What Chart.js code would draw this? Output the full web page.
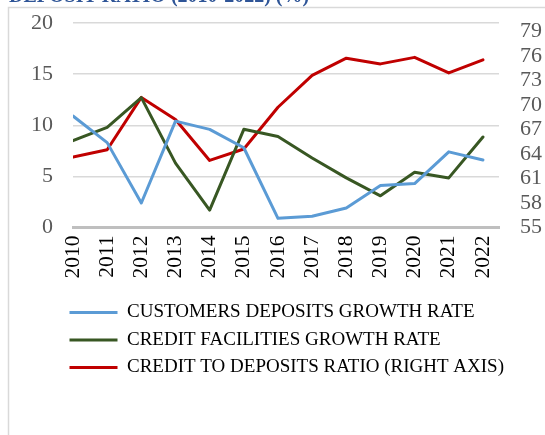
<!DOCTYPE html>
<html>
<head>
<meta charset="utf-8">
<script src="https://cdn.jsdelivr.net/npm/chart.js@4/dist/chart.umd.min.js"></script>
<style>
  html, body { margin: 0; padding: 0; background: #ffffff; }
  #wrap { width: 545px; height: 435px; }
</style>
</head>
<body>
<div id="wrap"><canvas id="c" width="545" height="435"></canvas></div>
<script>
// Years on the category axis
const years = ['2010','2011','2012','2013','2014','2015','2016','2017','2018','2019','2020','2021','2022'];

// Growth rates (%), left axis
const depositsGrowth = [10.9, 8.3, 2.4, 10.4, 9.6, 7.8, 0.9, 1.1, 1.9, 4.1, 4.3, 7.4, 6.6];
const creditGrowth   = [8.5, 9.8, 12.7, 6.3, 1.7, 9.6, 8.9, 6.8, 4.85, 3.1, 5.4, 4.85, 8.85];

// Credit to deposits ratio (%), right axis
const creditToDeposits = [63.6, 64.5, 70.9, 68.2, 63.2, 64.6, 69.7, 73.6, 75.7, 75.0, 75.8, 73.9, 75.5];

// Tick labels
const leftTicks  = [0, 5, 10, 15, 20];
const rightTicks = [55, 58, 61, 64, 67, 70, 73, 76, 79];

const seriesNames = [
  'CUSTOMERS DEPOSITS GROWTH RATE',
  'CREDIT FACILITIES GROWTH RATE',
  'CREDIT TO DEPOSITS RATIO (RIGHT AXIS)'
];

const toPoints = vals => vals.map((v, i) => ({ x: i, y: v }));

const SERIF = '"Liberation Serif", "DejaVu Serif", serif';

// Outer frame and the last line of the heading
const framePlugin = {
  id: 'frame',
  beforeDraw(chart) {
    const ctx = chart.ctx;
    ctx.save();
    ctx.strokeStyle = '#d9d9d9';
    ctx.lineWidth = 1.5;
    ctx.beginPath();
    ctx.moveTo(8.5, 435);
    ctx.lineTo(8.5, 7.5);
    ctx.lineTo(545, 7.5);
    ctx.stroke();
    ctx.fillStyle = '#2f5597';
    ctx.font = 'bold 20px ' + SERIF;
    ctx.textBaseline = 'alphabetic';
    ctx.textAlign = 'left';
    ctx.fillText('DEPOSIT RATIO (2010-2022) (%)', 9, 1.5);
    ctx.restore();
  }
};

// Legend rows start under the plot rather than at the canvas edge
const legendShift = {
  id: 'legendShift',
  afterLayout(chart) {
    const lg = chart.legend;
    if (lg) { lg.left += 61; lg.right += 61; }
  }
};

// Value axes: fixed width, no extra vertical room reserved for end labels
const fitValueAxis = width => s => {
  s.width = width;
  s.paddingTop = 0;
  s.paddingBottom = 0;
};

new Chart(document.getElementById('c'), {
  type: 'line',
  data: {
    datasets: [
      { label: seriesNames[0], data: toPoints(depositsGrowth), yAxisID: 'y',
        borderColor: '#5b9bd5', backgroundColor: '#5b9bd5' },
      { label: seriesNames[1], data: toPoints(creditGrowth), yAxisID: 'y',
        borderColor: '#385723', backgroundColor: '#385723' },
      { label: seriesNames[2], data: toPoints(creditToDeposits), yAxisID: 'y1',
        borderColor: '#c00000', backgroundColor: '#c00000' }
    ]
  },
  options: {
    responsive: false,
    animation: false,
    events: [],
    datasets: {
      line: {
        borderWidth: 3,
        pointRadius: 0,
        tension: 0,
        borderJoinStyle: 'round',
        borderCapStyle: 'round',
        fill: false
      }
    },
    layout: { padding: { top: 23, left: 0, right: 0, bottom: 48 } },
    scales: {
      x: {
        type: 'linear',
        min: 0,
        max: 12.47,
        afterBuildTicks: s => { s.ticks = years.map((_, i) => ({ value: i })); },
        afterFit: s => { s.height = 67; },
        grid: { display: false, drawTicks: false },
        border: { display: true, color: '#bfbfbf', width: 3 },
        ticks: {
          autoSkip: false,
          minRotation: 90,
          maxRotation: 90,
          padding: 8,
          color: '#000000',
          font: { family: SERIF, size: 21.5 },
          callback: v => years[v]
        }
      },
      y: {
        position: 'left',
        min: 0,
        max: 20,
        afterBuildTicks: s => { s.ticks = leftTicks.map(v => ({ value: v })); },
        afterFit: fitValueAxis(73),
        grid: {
          drawTicks: false,
          color: ctx => ctx.tick && ctx.tick.value === 0 ? 'rgba(0,0,0,0)' : '#d9d9d9',
          lineWidth: 1.5
        },
        border: { display: false },
        ticks: {
          autoSkip: false,
          padding: 20,
          color: '#595959',
          font: { family: SERIF, size: 22 }
        }
      },
      y1: {
        position: 'right',
        min: 55,
        max: 80,
        afterBuildTicks: s => { s.ticks = rightTicks.map(v => ({ value: v })); },
        afterFit: fitValueAxis(46),
        grid: { display: false, drawTicks: false },
        border: { display: false },
        ticks: {
          autoSkip: false,
          padding: 21,
          color: '#595959',
          font: { family: SERIF, size: 22 }
        }
      }
    },
    plugins: {
      title: { display: false },
      tooltip: { enabled: false },
      legend: {
        display: true,
        position: 'bottom',
        align: 'start',
        labels: {
          usePointStyle: true,
          pointStyle: 'line',
          pointStyleWidth: 48,
          boxHeight: 19,
          padding: 8.5,
          color: '#000000',
          font: { family: SERIF, size: 19 }
        }
      }
    }
  },
  plugins: [framePlugin, legendShift]
});
</script>
</body>
</html>
